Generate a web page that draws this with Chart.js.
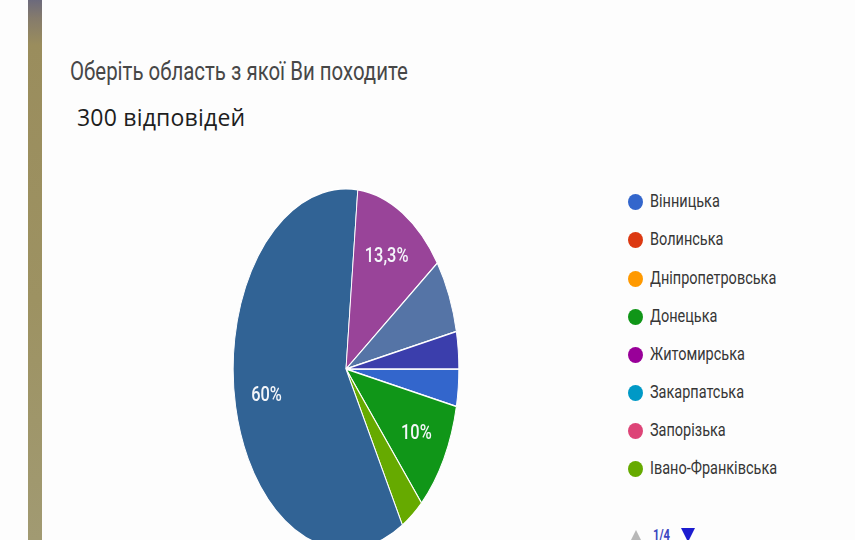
<!DOCTYPE html>
<html>
<head>
<meta charset="utf-8">
<script src="https://cdn.jsdelivr.net/npm/chart.js@4"></script>
<style>
  html, body { margin:0; padding:0; }
  body { width:855px; height:540px; overflow:hidden; background:#fdfdfd; position:relative; font-family: Roboto, sans-serif; }
  #bar { position:absolute; left:28px; top:0; width:14px; height:540px;
         background: linear-gradient(to bottom, #6c6a7c 0px, #857b6c 18px, #9a8d5d 45px, #9d9262 300px, #a19a72 540px); }
  .cond { position:absolute; white-space:nowrap; transform-origin: 0 50%; transform: scaleX(0.8); }
  #title { left:70px; top:58px; font-size:26px; line-height:26px; color:#474747; transform: scaleX(0.785); }
  #sub { position:absolute; left:77px; top:106px; font-family:"Open Sans", sans-serif; font-size:23px; line-height:23px; letter-spacing:0.2px; color:#1e1e1e; white-space:nowrap; }
  #pie { position:absolute; left:165px; top:188px; width:362px; height:362px; }
  .lg-dot { position:absolute; width:15px; height:16px; border-radius:50%; }
  .lg-txt { font-size:18px; line-height:18px; color:#363636; transform: scaleX(0.805); }
  #pg-up { position:absolute; left:630px; top:530px; width:0; height:0; border-left:6px solid transparent; border-right:6px solid transparent; border-bottom:12px solid #b8b8b8; }
  #pg-txt { left:653px; top:528px; font-size:14px; line-height:14px; color:#3b46c0; font-weight:bold; }
  #pg-dn { position:absolute; left:681px; top:528px; width:0; height:0; border-left:7px solid transparent; border-right:7px solid transparent; border-top:14px solid #1c1ccf; }
</style>
</head>
<body>
<div id="bar"></div>
<div id="title" class="cond">Оберіть область з якої Ви походите</div>
<div id="sub">300 відповідей</div>
<div id="pie"><canvas id="c"></canvas></div>
<div id="legend"></div>
<div id="pg-up"></div>
<div id="pg-txt" class="cond">1/4</div>
<div id="pg-dn"></div>
<script>
// ---- data ----
const categories = [
  "Вінницька","Волинська","Дніпропетровська","Донецька","Житомирська","Закарпатська",
  "Запорізька","Івано-Франківська","Київська","Кіровоградська","Луганська","Львівська",
  "Миколаївська","Одеська","Полтавська","Рівненська","Сумська","Тернопільська",
  "Харківська","Херсонська","Хмельницька","Черкаська","Чернівецька","Чернігівська","м. Київ"
];
const responses = [
  10, 0, 0, 30, 0, 0,
  0, 10, 0, 180, 40, 0,
  0, 0, 0, 0, 0, 0,
  20, 10, 0, 0, 0, 0, 0
];
const colors = [
  "#3366cc","#dc3912","#ff9900","#109618","#990099","#0099c6",
  "#dd4477","#66aa00","#b82e2e","#316395","#994499","#22aa99",
  "#aaaa11","#6633cc","#e67300","#8b0707","#651067","#329262",
  "#5574a6","#3b3eac","#b77322","#16d620","#b91383","#f4359e","#9c5935"
];
const legendPageSize = 8;

// ---- legend (HTML, built from arrays) ----
const lg = document.getElementById('legend');
for (let i = 0; i < legendPageSize; i++) {
  const yc = 202.3 + i * 38.1;
  const d = document.createElement('div');
  d.className = 'lg-dot';
  d.style.left = (635 - 7.5) + 'px';
  d.style.top = (yc - 8) + 'px';
  d.style.background = colors[i];
  lg.appendChild(d);
  const t = document.createElement('div');
  t.className = 'cond lg-txt';
  t.style.left = '650px';
  t.style.top = (yc - 10) + 'px';
  t.textContent = categories[i];
  lg.appendChild(t);
}

// ---- chart ----
const SX = 0.626;      // horizontal squash of the pie (ellipse)
const total = responses.reduce((a, b) => a + b, 0);

const squashPlugin = {
  id: 'squash',
  beforeDatasetsDraw(chart) {
    const ctx = chart.ctx, a = chart.chartArea;
    const cx = (a.left + a.right) / 2;
    ctx.save();
    ctx.translate(cx, 0);
    ctx.scale(SX, 1);
    ctx.translate(-cx, 0);
  },
  afterDatasetsDraw(chart) {
    const ctx = chart.ctx;
    ctx.restore();
    const meta = chart.getDatasetMeta(0);
    meta.data.forEach((arc, i) => {
      const v = responses[i];
      if (v / total < 0.08) return;
      const p = arc.getProps(['x', 'y', 'startAngle', 'endAngle', 'outerRadius'], true);
      const mid = (p.startAngle + p.endAngle) / 2;
      const r = p.outerRadius * 0.72;
      const px = p.x + Math.cos(mid) * r * SX;
      const py = p.y + Math.sin(mid) * r;
      let pct = (v / total * 100).toFixed(1).replace('.', ',');
      if (pct.endsWith(',0')) pct = pct.slice(0, -2);
      ctx.save();
      ctx.translate(px, py);
      ctx.scale(0.78, 1);
      ctx.fillStyle = '#f4f6fa';
      ctx.font = '500 21px Roboto';
      ctx.textAlign = 'center';
      ctx.textBaseline = 'middle';
      ctx.fillText(pct + '%', 0, 0);
      ctx.restore();
    });
  }
};

new Chart(document.getElementById('c'), {
  type: 'pie',
  data: {
    labels: categories,
    datasets: [{
      data: responses,
      backgroundColor: colors,
      borderColor: '#ffffff',
      borderWidth: 1.5
    }]
  },
  options: {
    responsive: true,
    maintainAspectRatio: false,
    animation: false,
    rotation: 90,
    layout: { padding: 0 },
    plugins: {
      legend: { display: false },
      tooltip: { enabled: false }
    }
  },
  plugins: [squashPlugin]
});
</script>
</body>
</html>
